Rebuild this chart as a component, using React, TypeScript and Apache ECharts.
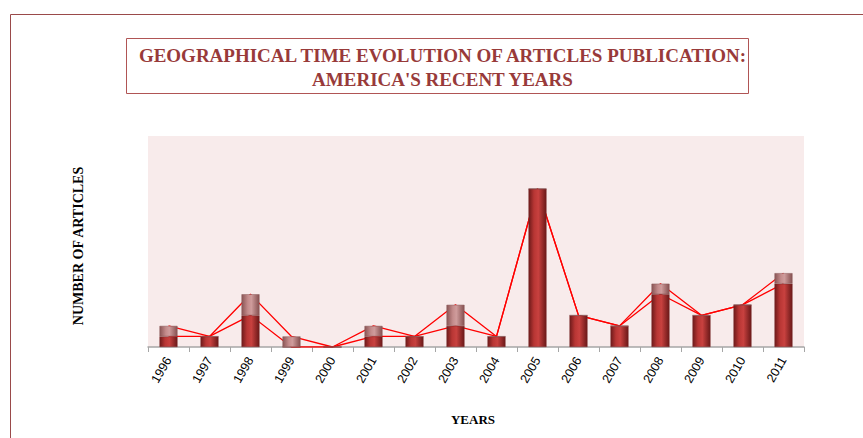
import React, { useEffect, useRef } from "react";
import * as echarts from "echarts";

const years = ["1996","1997","1998","1999","2000","2001","2002","2003","2004","2005","2006","2007","2008","2009","2010","2011"];
const baseValues = [1, 1, 3, 0, 0, 1, 1, 2, 1, 15, 3, 2, 5, 3, 4, 6];
const extraValues = [1, 0, 2, 1, 0, 1, 0, 2, 0, 0, 0, 0, 1, 0, 0, 1];
const titleLines = ["GEOGRAPHICAL TIME EVOLUTION OF ARTICLES PUBLICATION:", "AMERICA'S RECENT YEARS"];
const yAxisTitle = "NUMBER OF ARTICLES";
const xAxisTitle = "YEARS";

export default function App() {
  const ref = useRef<HTMLDivElement>(null);
  useEffect(() => {
    if (!ref.current) return;
    const chart = echarts.init(ref.current, null, { renderer: "svg" });
    const totals = baseValues.map((v, i) => v + extraValues[i]);
    const darkRed = new echarts.graphic.LinearGradient(0, 0, 1, 0, [
      { offset: 0, color: "#6e1a1a" },
      { offset: 0.3, color: "#b83634" },
      { offset: 0.55, color: "#c8413f" },
      { offset: 1, color: "#6a1818" },
    ]);
    const pinkGray = new echarts.graphic.LinearGradient(0, 0, 1, 0, [
      { offset: 0, color: "#8a5555" },
      { offset: 0.35, color: "#c48c8c" },
      { offset: 0.55, color: "#cf9c9c" },
      { offset: 1, color: "#855050" },
    ]);
    const serif = "'Liberation Serif', 'DejaVu Serif', serif";
    chart.setOption({
      animation: false,
      backgroundColor: "#ffffff",
      title: {
        text: titleLines.join("\n"),
        left: 437.5,
        top: 38,
        textAlign: "center",
        textStyle: {
          fontFamily: serif,
          fontWeight: "bold",
          fontSize: 19,
          color: "#983a3a",
          lineHeight: 24,
        },
      },
      graphic: [
        {
          type: "rect",
          shape: { x: 10.5, y: 14.5, width: 900, height: 500 },
          style: { fill: "none", stroke: "#9a4a4a", lineWidth: 1 },
          silent: true,
          z: -10,
        },
        {
          type: "rect",
          shape: { x: 126.5, y: 38.5, width: 622, height: 55 },
          style: { fill: "none", stroke: "#b05555", lineWidth: 1 },
          silent: true,
        },
        {
          type: "text",
          x: 78,
          y: 246,
          rotation: Math.PI / 2,
          style: {
            text: yAxisTitle,
            fontFamily: serif,
            fontWeight: "bold",
            fontSize: 14,
            fill: "#000000",
            textAlign: "center",
            textVerticalAlign: "middle",
          },
        },
        {
          type: "text",
          x: 473,
          y: 419,
          style: {
            text: xAxisTitle,
            fontFamily: serif,
            fontWeight: "bold",
            fontSize: 13,
            fill: "#000000",
            textAlign: "center",
            textVerticalAlign: "middle",
          },
        },
      ],
      grid: {
        left: 148,
        right: 863 - 804,
        top: 136,
        bottom: 438 - 347,
        show: true,
        backgroundColor: "#f8ebeb",
        borderWidth: 0,
        containLabel: false,
      },
      xAxis: {
        type: "category",
        data: years,
        boundaryGap: true,
        axisLine: { show: true, lineStyle: { color: "#a6a6a6", width: 1.5 } },
        axisTick: { show: true, alignWithLabel: false, length: 5, lineStyle: { color: "#a6a6a6" } },
        axisLabel: {
          rotate: 60,
          margin: 11,
          fontFamily: "'Liberation Sans', Arial, sans-serif",
          fontSize: 12.5,
          color: "#000000",
          interval: 0,
        },
        splitLine: { show: false },
      },
      yAxis: {
        type: "value",
        min: 0,
        max: 20,
        show: false,
        splitLine: { show: false },
      },
      series: [
        {
          name: "base",
          type: "bar",
          stack: "a",
          data: baseValues,
          barWidth: 18,
          z: 3,
          itemStyle: { color: darkRed, borderColor: "#7a2a2a", borderWidth: 0.5 },
        },
        {
          name: "extra",
          type: "bar",
          stack: "a",
          data: extraValues,
          barWidth: 18,
          z: 3,
          itemStyle: { color: pinkGray, borderColor: "#8a5a5a", borderWidth: 0.5 },
        },
        {
          name: "baseLine",
          type: "line",
          data: baseValues,
          symbol: "none",
          z: 1,
          lineStyle: { color: "#ff0000", width: 1.3 },
        },
        {
          name: "totalLine",
          type: "line",
          data: totals,
          symbol: "none",
          z: 1,
          lineStyle: { color: "#ff0000", width: 1.3 },
        },
      ],
    });
    return () => chart.dispose();
  }, []);
  return (
    <div
      ref={ref}
      style={{ position: "absolute", left: 0, top: 0, width: 863, height: 438 }}
    />
  );
}
